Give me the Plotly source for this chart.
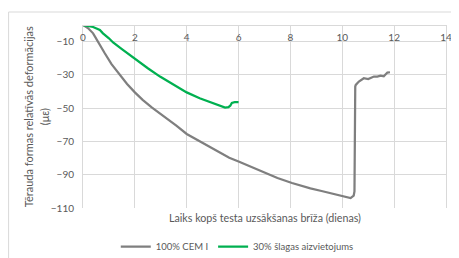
import plotly.graph_objects as go

# Data
cem_x = [0, 0.2, 0.39, 0.6, 0.84, 1.1, 1.42, 1.7, 2.0, 2.3, 2.65, 3.22, 3.6, 4.0, 4.5,
         5.0, 5.64, 6.0, 6.5, 7.09, 7.5, 8.06, 8.5, 8.77, 9.2, 9.6, 10.06, 10.32, 10.44,
         10.47, 10.5, 10.52, 10.64, 10.75, 10.83, 11.0, 11.09, 11.22, 11.35, 11.48, 11.6,
         11.67, 11.74, 11.84]
cem_y = [0, -2, -5, -11, -17, -23.5, -30, -35.5, -40.5, -45, -49.5, -56, -60.5, -65.5, -70,
         -74.5, -79.8, -82, -85.5, -89.5, -92, -95, -97.2, -98.2, -99.8, -101.3, -103, -104, -102.5,
         -100, -37, -36, -34, -32.5, -32, -32.5, -32, -31, -31, -30.5, -30.8,
         -29.5, -28.6, -28.4]

slag_x = [0, 0.39, 0.65, 0.77, 1.0, 1.16, 1.5, 2.0, 2.5, 2.97, 3.5, 4.0, 4.5, 5.03, 5.3,
          5.48, 5.61, 5.68, 5.74, 5.85, 6.0]
slag_y = [0, -1.2, -3, -5, -8, -10.5, -14.5, -20.5, -26, -31, -36, -40.5, -44, -47, -48.6,
          -49.6, -49.4, -48.5, -46.8, -46.4, -46.4]

series_names = ["100% CEM I", "30% šlagas aizvietojums"]
x_ticks = [0, 2, 4, 6, 8, 10, 12, 14]
y_ticks = [-110, -90, -70, -50, -30, -10]
x_title = "Laiks kopš testa uzsākšanas brīža (dienas)"
y_title_lines = ["Tērauda formas relatīvās deformācijas", "(με)"]

FONT = "Lato"
TXT = "#595959"
GRID = "#d9d9d9"

fig = go.Figure()
fig.add_trace(go.Scatter(x=cem_x, y=cem_y, mode="lines", name=series_names[0],
                         line=dict(color="#7f7f7f", width=2.25)))
fig.add_trace(go.Scatter(x=slag_x, y=slag_y, mode="lines", name=series_names[1],
                         line=dict(color="#00b050", width=2.25)))

# page has an 8px body margin, so the figure is sized/offset to compensate
fig.update_layout(
    width=451, height=250,
    margin=dict(l=75, r=13, t=17, b=50, autoexpand=False),
    paper_bgcolor="white", plot_bgcolor="white",
    font=dict(family=FONT, size=10, color=TXT),
    showlegend=True,
    legend=dict(orientation="h", x=0.425, xanchor="center", y=-0.211, yanchor="middle",
                font=dict(size=9.5, color=TXT), bgcolor="rgba(0,0,0,0)",
                itemwidth=30, tracegroupgap=0),
    xaxis=dict(range=[0, 14], tickvals=x_ticks, anchor="free", position=1, side="bottom",
               automargin=False,
               showgrid=True, gridcolor=GRID, gridwidth=1, zeroline=False,
               showline=True, linecolor=GRID, linewidth=1,
               ticks="", ticklabelstandoff=3, tickfont=dict(size=10, color=TXT)),
    yaxis=dict(range=[-110, 0], tickvals=y_ticks, showgrid=True, gridcolor=GRID,
               automargin=False,
               gridwidth=1, zeroline=False, showline=True, linecolor=GRID, linewidth=1,
               mirror=True, ticks="", ticklabelstandoff=6,
               tickfont=dict(size=10, color=TXT)),
    shapes=[dict(type="rect", xref="paper", yref="paper", x0=-0.205, x1=1.2, y0=-0.5, y1=1.071,
                 line=dict(color=GRID, width=1), fillcolor="rgba(0,0,0,0)", layer="below")],
    annotations=[
        dict(text=x_title, xref="paper", yref="paper", x=0.5, y=-0.054,
             xanchor="center", yanchor="middle", showarrow=False,
             font=dict(size=10.7, color=TXT)),
        dict(text=y_title_lines[0], xref="paper", yref="paper", x=-0.1497, y=0.5,
             xanchor="center", yanchor="middle", showarrow=False, textangle=-90,
             font=dict(size=11, color=TXT)),
        dict(text=y_title_lines[1], xref="paper", yref="paper", x=-0.1056, y=0.5,
             xanchor="center", yanchor="middle", showarrow=False, textangle=-90,
             font=dict(size=11, color=TXT)),
    ],
)

fig.write_html("out.html")
